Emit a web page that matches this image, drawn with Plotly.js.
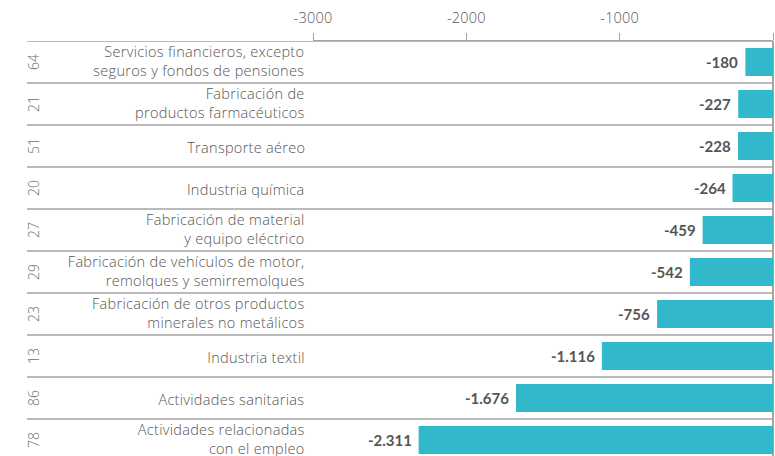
<!DOCTYPE html>
<html>
<head>
<meta charset="utf-8">
<script src="https://cdn.plot.ly/plotly-3.0.1.min.js"></script>
<style>
html,body{margin:0;padding:0;overflow:hidden;background:#fff;}
#chart{width:775px;height:461px;}
#chart .xtick text{letter-spacing:0.2px;}
</style>
</head>
<body>
<div id="chart"></div>
<script>
// Data
var codes = ["64","21","51","20","27","29","23","13","86","78"];
var sectors = [
  "Servicios financieros, excepto<br>seguros y fondos de pensiones",
  "Fabricación de<br>productos farmacéuticos",
  "Transporte aéreo",
  "Industria química",
  "Fabricación de material<br>y equipo eléctrico",
  "Fabricación de vehículos de motor,<br>remolques y semirremolques",
  "Fabricación de otros productos<br>minerales no metálicos",
  "Industria textil",
  "Actividades sanitarias",
  "Actividades relacionadas<br>con el empleo"
];
var values = [-180, -227, -228, -264, -459, -542, -756, -1116, -1676, -2311];
var tickValues = [-3000, -2000, -1000, 0];
var tickLabels = ["-3000", "-2000", "-1000", "0"];

function fmt(v) {
  var s = Math.abs(v).toString();
  var out = s.replace(/\B(?=(\d{3})+(?!\d))/g, ".");
  return (v < 0 ? "-" : "") + out;
}

var ids = codes.map(function(c, i){ return "r" + i; });

var FONT = "'Open Sans', 'Noto Sans', sans-serif";

var trace = {
  type: "bar",
  orientation: "h",
  x: values,
  y: ids,
  marker: {color: "#31b8ca"},
  hoverinfo: "skip"
};

var plotLeft = 313, plotRight = 773;
var plotW = plotRight - plotLeft;
function px2paper(px){ return (px - plotLeft) / plotW; }

var annotations = [];
var shapes = [];
for (var i = 0; i < ids.length; i++) {
  annotations.push({
    x: values[i], y: ids[i], xref: "x", yref: "y",
    text: "<b>" + fmt(values[i]) + "</b>",
    showarrow: false, xanchor: "right", xshift: -5,
    font: {family: "Lato, sans-serif", size: 15, color: "#555555"}
  });
  annotations.push({
    x: px2paper(33), y: ids[i], xref: "paper", yref: "y",
    text: codes[i], textangle: -90,
    showarrow: false, xanchor: "center", yanchor: "middle",
    font: {family: FONT, size: 14, color: "#6e6e6e", weight: 300}
  });
  var twoLine = sectors[i].indexOf("<br>") >= 0;
  annotations.push({
    x: px2paper(307), y: ids[i], xref: "paper", yref: "y",
    text: sectors[i], align: "right",
    showarrow: false, xanchor: "right", yanchor: "middle", yshift: twoLine ? 1 : -1.5,
    font: {family: FONT, size: 14.5, color: "#555555", weight: 300}
  });
}
for (var k = 0; k < ids.length; k++) {
  shapes.push({
    type: "line", xref: "paper", yref: "y",
    x0: px2paper(27), x1: 1, y0: k - 0.5, y1: k - 0.5,
    line: {color: "#a3a3a3", width: 1.5}
  });
}

var layout = {
  width: 775, height: 461,
  margin: {l: plotLeft, r: 775 - plotRight, t: 41, b: 0, pad: 0},
  paper_bgcolor: "#ffffff", plot_bgcolor: "#ffffff",
  font: {family: FONT, size: 14, color: "#555555"},
  showlegend: false,
  bargap: 0.333,
  xaxis: {
    side: "top",
    range: [-3000, 0],
    tickvals: tickValues, ticktext: tickLabels,
    ticks: "outside", ticklen: 7, tickcolor: "#a3a3a3", tickwidth: 1,
    ticklabelstandoff: 4,
    showline: true, linecolor: "#a3a3a3", linewidth: 1.5,
    showgrid: false,
    zeroline: true, zerolinecolor: "#a3a3a3", zerolinewidth: 1.5,
    tickfont: {family: FONT, size: 14.5, color: "#555555", weight: 300},
    fixedrange: true
  },
  yaxis: {
    type: "category",
    categoryorder: "array", categoryarray: ids,
    range: [9.5, -0.5],
    showticklabels: false, ticks: "",
    showgrid: false, zeroline: false, showline: false,
    fixedrange: true
  },
  annotations: annotations,
  shapes: shapes
};

Plotly.newPlot("chart", [trace], layout, {displayModeBar: false, staticPlot: true}).then(function(){
  // widen label lettering to match reference typography
  var nodes = document.querySelectorAll("#chart .annotation-text");
  nodes.forEach(function(n){
    if (n.textContent.length > 4 && !/^-?[\d.]+$/.test(n.textContent)) {
      n.style.letterSpacing = "0.3px";
    }
  });
});
</script>
</body>
</html>
